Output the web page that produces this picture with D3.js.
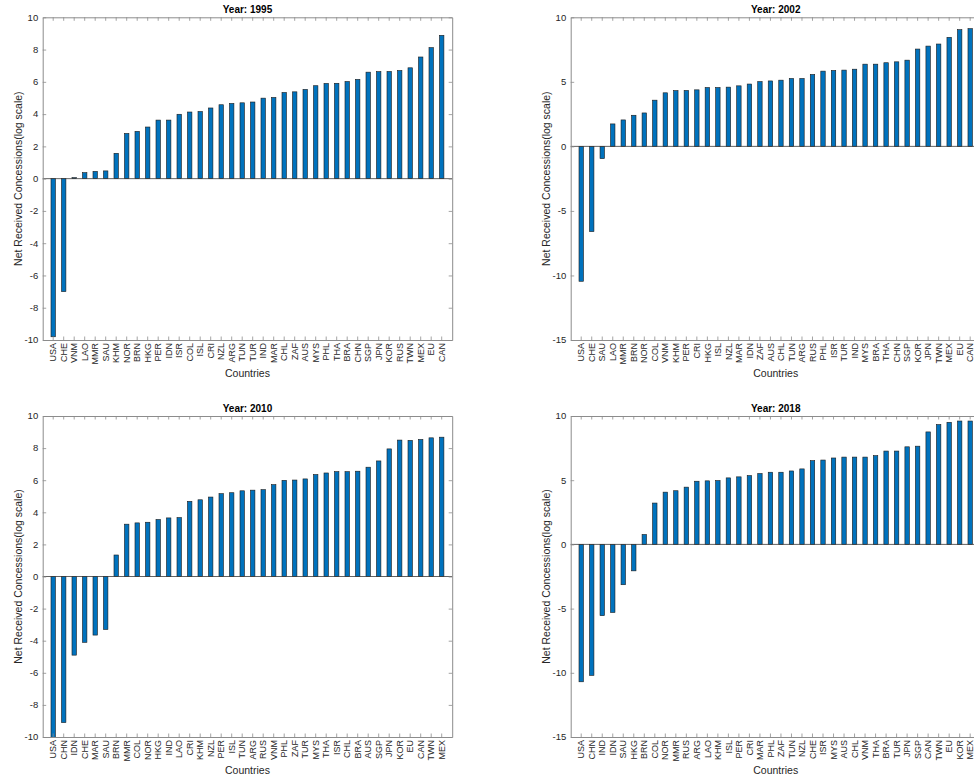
<!DOCTYPE html>
<html>
<head>
<meta charset="utf-8">
<script src="https://cdn.jsdelivr.net/npm/d3@7"></script>
<style>
  html, body { margin: 0; padding: 0; background: #fff; }
  svg { display: block; font-family: "Liberation Sans", Arial, Helvetica, sans-serif; }
</style>
</head>
<body>
<svg id="chart" width="974" height="782"></svg>
<script>
// Countries, sorted by net received concessions, for each year
const countries1995 = ["USA","CHE","VNM","LAO","MMR","SAU","KHM","NOR","BRN","HKG","PER","IDN","ISR","COL","ISL","CRI","NZL","ARG","TUN","TUR","IND","MAR","CHL","ZAF","AUS","MYS","PHL","THA","BRA","CHN","SGP","JPN","KOR","RUS","TWN","MEX","EU","CAN"];
const values1995 = [-9.8,-7.0,0.06,0.37,0.45,0.48,1.57,2.8,2.93,3.2,3.63,3.63,3.99,4.13,4.16,4.38,4.58,4.66,4.7,4.75,4.99,5.03,5.34,5.38,5.53,5.76,5.9,5.91,6.02,6.15,6.6,6.63,6.64,6.7,6.87,7.54,8.12,8.88];

const countries2002 = ["USA","CHE","SAU","LAO","MMR","BRN","NOR","COL","VNM","KHM","PER","CRI","HKG","ISL","NZL","MAR","IDN","ZAF","AUS","CHL","TUN","ARG","RUS","PHL","ISR","TUR","IND","MYS","BRA","THA","CHN","SGP","KOR","JPN","TWN","MEX","EU","CAN"];
const values2002 = [-10.45,-6.6,-0.95,1.74,2.05,2.41,2.59,3.58,4.15,4.32,4.33,4.38,4.56,4.56,4.59,4.69,4.83,5.02,5.07,5.13,5.26,5.26,5.57,5.83,5.88,5.91,5.98,6.37,6.37,6.48,6.55,6.68,7.54,7.77,7.93,8.45,9.04,9.12];

const countries2010 = ["USA","CHN","IDN","CHE","MAR","SAU","BRN","MMR","COL","NOR","HKG","IND","LAO","CRI","KHM","NZL","PER","ISL","TUN","ARG","RUS","VNM","PHL","ZAF","TUR","MYS","THA","ISR","CHL","BRA","AUS","SGP","JPN","KOR","EU","CAN","TWN","MEX"];
const values2010 = [-10.2,-9.1,-4.9,-4.1,-3.65,-3.3,1.34,3.26,3.34,3.38,3.55,3.65,3.67,4.68,4.78,4.95,5.16,5.22,5.34,5.38,5.41,5.72,5.99,6.01,6.08,6.35,6.45,6.53,6.53,6.56,6.81,7.2,7.95,8.5,8.48,8.54,8.64,8.68];

const countries2018 = ["USA","CHN","IND","IDN","SAU","HKG","BRN","COL","NOR","MMR","RUS","ARG","LAO","KHM","ISL","PER","CRI","MAR","PHL","ZAF","TUN","NZL","CHE","ISR","MYS","AUS","CHL","VNM","THA","BRA","TUR","JPN","SGP","CAN","TWN","EU","KOR","MEX"];
const values2018 = [-10.7,-10.2,-5.55,-5.3,-3.14,-2.06,0.77,3.22,4.07,4.18,4.46,4.92,4.95,4.97,5.18,5.26,5.36,5.52,5.62,5.62,5.72,5.88,6.52,6.57,6.73,6.8,6.8,6.8,6.91,7.27,7.27,7.6,7.65,8.76,9.33,9.51,9.61,9.61];

const years = ["1995", "2002", "2010", "2018"];
const yDomains = [[-10, 10], [-15, 10], [-10, 10], [-15, 10]];
const yTickValues = [
  [-10,-8,-6,-4,-2,0,2,4,6,8,10],
  [-15,-10,-5,0,5,10],
  [-10,-8,-6,-4,-2,0,2,4,6,8,10],
  [-15,-10,-5,0,5,10]
];

const panels = [
  { year: years[0], cats: countries1995, vals: values1995, dom: yDomains[0], ticks: yTickValues[0], left: 42.7, top: 17.3, width: 409.5, height: 322.7 },
  { year: years[1], cats: countries2002, vals: values2002, dom: yDomains[1], ticks: yTickValues[1], left: 570.7, top: 17.3, width: 410, height: 322.7 },
  { year: years[2], cats: countries2010, vals: values2010, dom: yDomains[2], ticks: yTickValues[2], left: 42.7, top: 416, width: 409.5, height: 321 },
  { year: years[3], cats: countries2018, vals: values2018, dom: yDomains[3], ticks: yTickValues[3], left: 570.7, top: 416, width: 410, height: 321 }
];

const svg = d3.select("#chart");
const axisColor = "#8c8c8c";
const textColor = "#262626";
const tickLen = 3.5;

panels.forEach((p, idx) => {
  const g = svg.append("g").attr("transform", `translate(${p.left},${p.top})`);
  const w = p.width, h = p.height;

  // Bars sit at integer positions 1..n inside a [0, n+1] range
  const n = p.cats.length;
  const inner = 0.58;
  const x = d3.scaleBand().domain(p.cats).range([0, w])
    .paddingInner(inner).paddingOuter((1 + inner) / 2);
  const y = d3.scaleLinear().domain(p.dom).range([h, 0]);

  const clipId = "clip" + idx;
  g.append("clipPath").attr("id", clipId)
    .append("rect").attr("x", 0).attr("y", 0).attr("width", w).attr("height", h);

  // bars
  g.append("g").attr("clip-path", `url(#${clipId})`)
    .selectAll("rect").data(p.cats.map((c, i) => ({ c, v: p.vals[i] })))
    .join("rect")
    .attr("x", d => x(d.c))
    .attr("width", x.bandwidth())
    .attr("y", d => y(Math.max(0, d.v)))
    .attr("height", d => Math.abs(y(d.v) - y(0)))
    .attr("fill", "#0072BD")
    .attr("stroke", "#1a1a1a")
    .attr("stroke-width", 0.6);

  // baseline at zero
  g.append("line")
    .attr("x1", 0).attr("x2", w)
    .attr("y1", y(0)).attr("y2", y(0))
    .attr("stroke", "#3a3a3a").attr("stroke-width", 0.8);

  // axes with inward ticks on all four sides
  const styleAxis = sel => {
    sel.select(".domain").attr("stroke", axisColor).attr("stroke-width", 1);
    sel.selectAll(".tick line").attr("stroke", axisColor).attr("stroke-width", 0.8);
  };

  g.append("g").attr("transform", `translate(0,${h})`)
    .call(d3.axisBottom(x).tickSize(-tickLen).tickSizeOuter(0).tickFormat(""))
    .call(styleAxis);
  g.append("g")
    .call(d3.axisTop(x).tickSize(-tickLen).tickSizeOuter(0).tickFormat(""))
    .call(styleAxis);
  g.append("g")
    .call(d3.axisLeft(y).tickValues(p.ticks).tickSize(-tickLen).tickSizeOuter(0).tickFormat(""))
    .call(styleAxis);
  g.append("g").attr("transform", `translate(${w},0)`)
    .call(d3.axisRight(y).tickValues(p.ticks).tickSize(-tickLen).tickSizeOuter(0).tickFormat(""))
    .call(styleAxis);

  // y tick labels
  g.append("g").selectAll("text").data(p.ticks).join("text")
    .attr("x", -4.5)
    .attr("y", d => y(d))
    .attr("dy", "0.35em")
    .attr("text-anchor", "end")
    .attr("font-size", 9.5)
    .attr("fill", textColor)
    .text(d => d);

  // x tick labels, rotated
  g.append("g").selectAll("text").data(p.cats).join("text")
    .attr("transform", d => `translate(${x(d) + x.bandwidth() / 2},${h + 3}) rotate(-90)`)
    .attr("dy", "0.35em")
    .attr("text-anchor", "end")
    .attr("font-size", 9)
    .attr("fill", textColor)
    .text(d => d);

  // title
  g.append("text")
    .attr("x", w / 2).attr("y", -4.5)
    .attr("text-anchor", "middle")
    .attr("font-size", 10)
    .attr("font-weight", "bold")
    .attr("fill", "#000")
    .text("Year: " + p.year);

  // axis titles
  g.append("text")
    .attr("x", w / 2).attr("y", h + 37)
    .attr("text-anchor", "middle")
    .attr("font-size", 10.5)
    .attr("fill", textColor)
    .text("Countries");

  g.append("text")
    .attr("transform", `translate(-20.5,${h / 2}) rotate(-90)`)
    .attr("text-anchor", "middle")
    .attr("font-size", 10.5)
    .attr("fill", textColor)
    .text("Net Received Concessions(log scale)");
});
</script>
</body>
</html>
